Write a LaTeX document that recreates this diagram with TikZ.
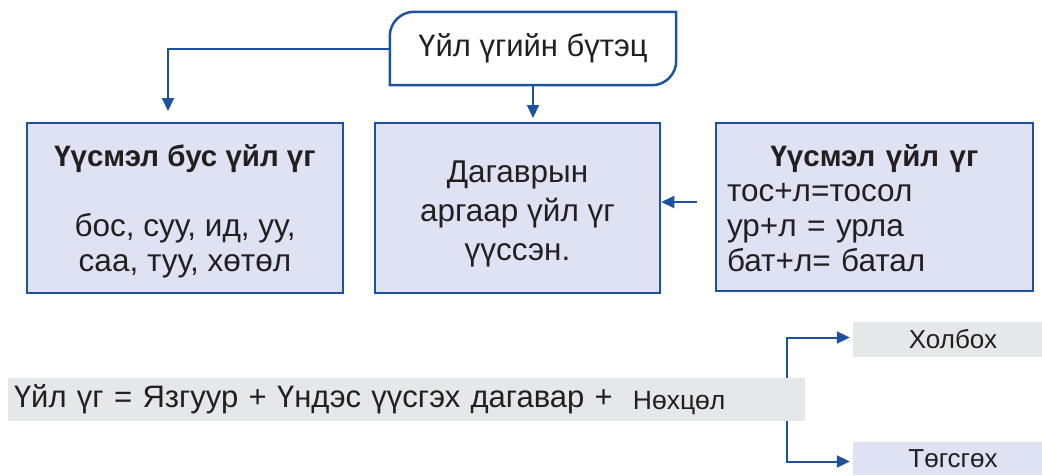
\documentclass[tikz,border=0pt]{standalone}
\usepackage{fontspec}
\setmainfont{Liberation Sans}
\usetikzlibrary{arrows.meta,positioning}

\definecolor{lineblue}{RGB}{30,82,160}
\definecolor{boxfill}{RGB}{222,226,242}
\definecolor{bargray}{RGB}{230,231,232}
\definecolor{inkgray}{RGB}{35,31,32}

\newcommand{\boxhead}[1]{{\fontsize{29.5}{35}\selectfont\bfseries #1}}

\tikzset{
  box/.style={draw=lineblue, line width=2.5pt, fill=boxfill, inner sep=0pt},
  boxtext/.style={text=inkgray, inner sep=0pt, align=center},
  link/.style={draw=lineblue, line width=2pt, -{Triangle[length=13pt,width=12pt]}},
  tag/.style={inner sep=0pt, text=inkgray, font=\fontsize{26}{30}\selectfont}
}

\begin{document}
\begin{tikzpicture}[x=1pt,y=-1pt,font=\fontsize{31.5}{35}\selectfont]
\useasboundingbox (0,0) rectangle (1042,475);

% title
\node[minimum width=286pt, minimum height=73pt, inner sep=0pt, text=inkgray, font=\fontsize{31}{35}\selectfont] (ttl) at (533,48.5) {Үйл үгийн бүтэц};
\draw[lineblue, line width=2.5pt]
  (ttl.south west) -- ([yshift=-24pt]ttl.north west)
  .. controls ([yshift=-11pt]ttl.north west) and ([xshift=11pt]ttl.north west) .. ([xshift=24pt]ttl.north west)
  -- (ttl.north east) -- ([yshift=24pt]ttl.south east)
  .. controls ([yshift=11pt]ttl.south east) and ([xshift=-11pt]ttl.south east) .. ([xshift=-24pt]ttl.south east)
  -- cycle;

% three boxes
\node[box, minimum width=316pt, minimum height=170pt] (b1) at (185,208) {};
\node[boxtext] (b1txt) at ([yshift=-3pt]b1.center)
  {\boxhead{Үүсмэл бус үйл үг}\\[35pt] бос, суу, ид, уу,\\ саа, туу, хөтөл};
\node[box, minimum width=285pt, minimum height=170pt] (b2) at (517.5,208) {};
\node[boxtext, font=\fontsize{31.5}{39}\selectfont] (b2txt) at ([yshift=-6pt]b2.center)
  {Дагаврын\\ аргаар үйл үг\\ үүссэн.};
\node[box, minimum width=317pt, minimum height=168pt] (b3) at (874.5,207) {};
\node[boxtext, text width=295pt, align=left] (b3txt) at ([yshift=-1pt]b3.center)
  {\makebox[\linewidth]{\boxhead{Үүсмэл үйл үг}}\\ тос+л=тосол\\ ур+л = урла\\ бат+л= батал};

\coordinate (c1) at (168,111);
\coordinate (c2) at (533,118);
\coordinate (c3) at (697,202);
\draw[link] (ttl.west) -| (c1);
\draw[link] (ttl.south) -- (c2);
\draw[link] (c3) -- (b2.east |- c3);

% formula
\node[tag, fill=bargray, minimum width=200pt, minimum height=35pt] (hol) at (953,339.5) {Холбох};
\node[tag, fill=boxfill, minimum width=200pt, minimum height=33pt] (tog) at (953,458.5) {Төгсгөх};
\coordinate (fork) at (787,400);
\draw[link, shorten >=3pt] (fork) |- ([yshift=2pt]hol.west);
\draw[link, shorten >=3pt] (fork) |- ([yshift=-3pt]tog.west);

\node[fill=bargray, text=inkgray, minimum height=43pt, text width=785pt, inner xsep=6pt, inner ysep=0pt, align=left,
  font=\fontsize{31}{34}\selectfont] (eq) at (406.5,399.5)
  {Үйл үг = Язгуур + Үндэс үүсгэх дагавар +\hspace{20pt}\raisebox{-2pt}{\fontsize{26.5}{28}\selectfont Нөхцөл}};
\end{tikzpicture}
\end{document}
